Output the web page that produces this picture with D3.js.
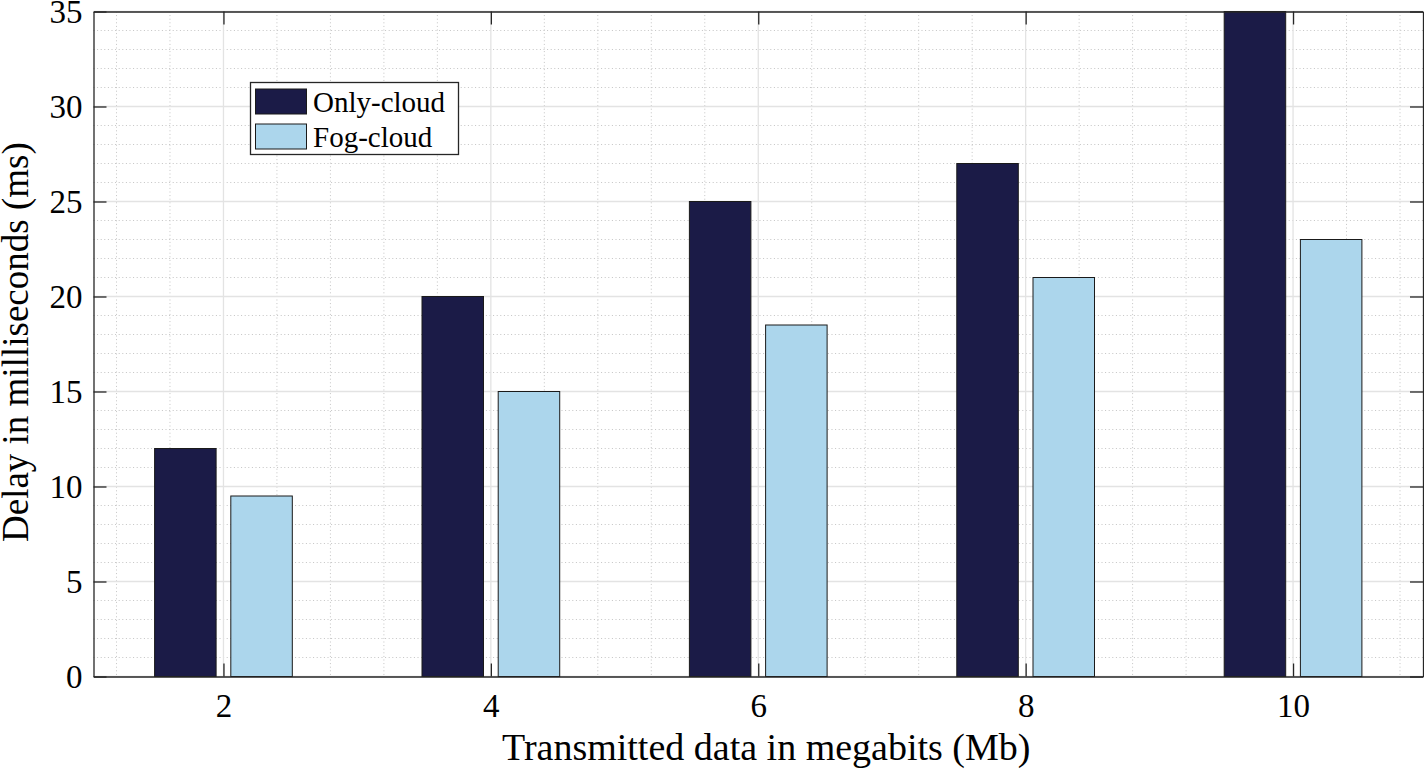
<!DOCTYPE html>
<html>
<head>
<meta charset="utf-8">
<script src="https://cdn.jsdelivr.net/npm/d3@7"></script>
<style>
  html, body { margin: 0; padding: 0; background: #fff; }
  svg { display: block; }
  text { font-family: "Liberation Serif", "Times New Roman", serif; fill: #000; }
</style>
</head>
<body>
<svg id="chart" width="1424" height="769"></svg>
<script>
// ---- data ----
const categories = [2, 4, 6, 8, 10];
const seriesNames = ["Only-cloud", "Fog-cloud"];
const onlyCloud = [12, 20, 25, 27, 35];
const fogCloud = [9.5, 15, 18.5, 21, 23];
const yTicks = [0, 5, 10, 15, 20, 25, 30, 35];
const xTickLabels = ["2", "4", "6", "8", "10"];
const xLabel = "Transmitted data in megabits (Mb)";
const yLabel = "Delay in milliseconds (ms)";
const colors = ["#1b1b47", "#acd6ec"];

// ---- layout ----
const plot = { left: 93.5, right: 1423, top: 11.5, bottom: 676.5 };
const svg = d3.select("#chart");

const x = d3.scaleLinear().domain([1.028, 10.972]).range([plot.left, plot.right]);
const y = d3.scaleLinear().domain([0, 35]).range([plot.bottom, plot.top]);

const barW = 0.46;   // bar width in x units
const offs = [-0.285, 0.285];

const g = svg.append("g");

// minor grid (dotted)
const xMinor = d3.range(1.2, 10.97, 0.4).filter(v => Math.abs(v / 2 - Math.round(v / 2)) > 1e-6);
const yMinor = d3.range(0, 35.001, 1).filter(v => v % 5 !== 0);
g.append("g").selectAll("line").data(xMinor).join("line")
  .attr("x1", d => x(d)).attr("x2", d => x(d))
  .attr("y1", plot.top).attr("y2", plot.bottom)
  .attr("stroke", "#c4c4c4").attr("stroke-width", 1).attr("stroke-dasharray", "1,2.6");
g.append("g").selectAll("line").data(yMinor).join("line")
  .attr("x1", plot.left).attr("x2", plot.right)
  .attr("y1", d => y(d)).attr("y2", d => y(d))
  .attr("stroke", "#c4c4c4").attr("stroke-width", 1).attr("stroke-dasharray", "1,2.6");
// major grid
g.append("g").selectAll("line").data(categories).join("line")
  .attr("x1", d => x(d)).attr("x2", d => x(d))
  .attr("y1", plot.top).attr("y2", plot.bottom)
  .attr("stroke", "#e3e3e3").attr("stroke-width", 1.3);
g.append("g").selectAll("line").data(yTicks).join("line")
  .attr("x1", plot.left).attr("x2", plot.right)
  .attr("y1", d => y(d)).attr("y2", d => y(d))
  .attr("stroke", "#e3e3e3").attr("stroke-width", 1.3);

// bars
const series = [onlyCloud, fogCloud];
series.forEach((vals, si) => {
  g.append("g").selectAll("rect").data(vals).join("rect")
    .attr("x", (d, i) => x(categories[i] + offs[si] - barW / 2))
    .attr("width", x(barW) - x(0))
    .attr("y", d => y(d))
    .attr("height", d => y(0) - y(d))
    .attr("fill", colors[si])
    .attr("stroke", "#1a1a1a").attr("stroke-width", 1);
});

// axes
const tickLen = 13;
const fs = 33;
const axB = svg.append("g").attr("transform", `translate(0,${plot.bottom})`)
  .call(d3.axisBottom(x).tickValues(categories).tickFormat((d, i) => xTickLabels[i]).tickSizeInner(-tickLen).tickSizeOuter(0).tickPadding(17));
const axT = svg.append("g").attr("transform", `translate(0,${plot.top})`)
  .call(d3.axisTop(x).tickValues(categories).tickFormat("").tickSizeInner(-tickLen).tickSizeOuter(0));
const axL = svg.append("g").attr("transform", `translate(${plot.left},0)`)
  .call(d3.axisLeft(y).tickValues(yTicks).tickSizeInner(-tickLen).tickSizeOuter(0).tickPadding(11));
const axR = svg.append("g").attr("transform", `translate(${plot.right},0)`)
  .call(d3.axisRight(y).tickValues(yTicks).tickFormat("").tickSizeInner(-tickLen).tickSizeOuter(0));
[axB, axT, axL, axR].forEach(a => {
  a.select(".domain").attr("stroke", "#262626").attr("stroke-width", 1.3);
  a.selectAll(".tick line").attr("stroke", "#262626").attr("stroke-width", 1.3);
  a.selectAll(".tick text").attr("font-family", "Liberation Serif, Times New Roman, serif")
    .attr("font-size", fs).attr("fill", "#000");
});

// axis labels
svg.append("text").attr("x", 502).attr("y", 760)
  .attr("text-anchor", "start").attr("font-size", 38).text(xLabel);
svg.append("text").attr("transform", `translate(28,542) rotate(-90)`)
  .attr("text-anchor", "start").attr("font-size", 37).text(yLabel);

// legend
const lg = svg.append("g");
lg.append("rect").attr("x", 250.5).attr("y", 82.5).attr("width", 208).attr("height", 72)
  .attr("fill", "#fff").attr("stroke", "#262626").attr("stroke-width", 1.3);
seriesNames.forEach((name, i) => {
  const yy = 89 + i * 35;
  lg.append("rect").attr("x", 255.5).attr("y", yy).attr("width", 51).attr("height", 25)
    .attr("fill", colors[i]).attr("stroke", "#1a1a1a").attr("stroke-width", 1);
  lg.append("text").attr("x", 313).attr("y", yy + 23).attr("font-size", 29).text(name);
});
</script>
</body>
</html>
